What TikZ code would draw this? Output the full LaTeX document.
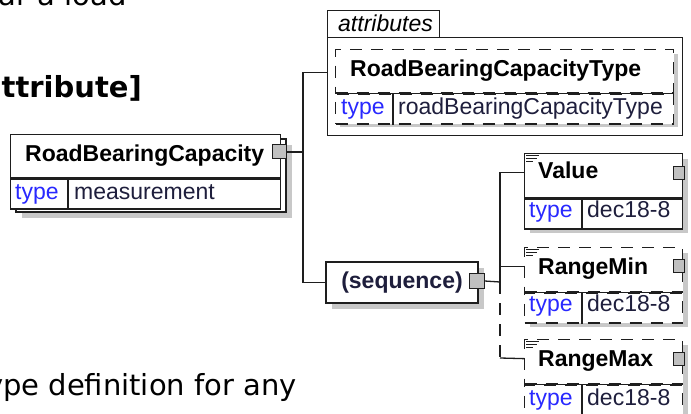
\documentclass[tikz,border=0pt]{standalone}
\usepackage{fontspec}
\newfontfamily\diafont{Liberation Sans}
\newfontfamily\prosefont{DejaVu Sans}
\definecolor{typeblue}{RGB}{40,40,255}
\definecolor{valink}{RGB}{30,30,60}
\definecolor{shadegray}{RGB}{200,200,200}
\definecolor{sqgray}{RGB}{192,192,192}
\definecolor{edge}{RGB}{30,30,30}
\tikzset{
  box/.style={draw=edge, fill=white, line width=1.3pt, inner sep=0pt, anchor=north west},
  optbox/.style={box, dash pattern=on 12pt off 9pt},
  conn/.style={draw=edge, line width=1.3pt},
  sq/.style={draw=edge, fill=sqgray, line width=1pt, minimum width=11pt, minimum height=13pt, inner sep=0pt},
  ename/.style={font=\diafont\fontsize{23}{27}\selectfont\bfseries, anchor=base west, inner sep=0pt},
  tlabel/.style={font=\diafont\fontsize{23}{27}\selectfont, text=typeblue, anchor=base west, inner sep=0pt},
  tval/.style={font=\diafont\fontsize{23}{27}\selectfont, text=valink, anchor=base west, inner sep=0pt},
  prose/.style={font=\prosefont\fontsize{29}{34}\selectfont, anchor=base east, inner sep=0pt},
}
\begin{document}
\begin{tikzpicture}[x=1pt,y=-1pt]
    \useasboundingbox (0,0) rectangle (691,414);
    \clip (0,0) rectangle (691,414);
    % text round the diagram
    \node[prose] (ptop) at (127,6) {ar a load};
    \node[prose, font=\prosefont\fontsize{29}{34}\selectfont\bfseries] (phead) at (142,98) {attribute]};
    \node[prose] (pbot) at (297,395) {ype definition for any};
    % RoadBearingCapacity
    \fill[shadegray] (22,145) rectangle (292,218);
    \filldraw[draw=edge, fill=white, line width=1.3pt] (16,139) rectangle (286,212);
    \node[box, minimum width=270pt, minimum height=43pt] (rbch) at (10,134) {};
    \node[box, minimum width=270pt, minimum height=30pt] (rbct) at (rbch.south west) {};
    \draw[conn] ([xshift=58pt]rbct.north west) -- ([xshift=58pt]rbct.south west);
    \node[ename] (rbcname) at (25,162) {RoadBearingCapacity};
    \node[tlabel] (rbctype) at (15,200) {type};
    \node[tval] (rbcval) at (74,200) {measurement};
    \node[sq, minimum width=14pt, minimum height=14pt] (rbcsq) at (279,152) {};
    % attributes
    \node[box, minimum width=112pt, minimum height=27pt] (attrtab) at (327,10) {};
    \node[box, minimum width=355pt, minimum height=98pt] (attrbody) at (327,37) {};
    \node[tval, text=black, font=\diafont\fontsize{23}{27}\selectfont\itshape] (attrlbl) at (338,32) {attributes};
    \fill[shadegray] (340,54) rectangle (678,127);
    \node[optbox, minimum width=338pt, minimum height=43pt] (rbcth) at (335,49) {};
    \node[optbox, minimum width=338pt, minimum height=30pt] (rbctt) at (rbcth.south west) {};
    \draw[conn] (rbcth.south west) -- (rbcth.south east);
    \draw[conn] ([xshift=58pt]rbctt.north west) -- ([xshift=58pt]rbctt.south west);
    \node[ename] (rbctname) at (350,77) {RoadBearingCapacityType};
    \node[tlabel] (rbcttype) at (341,115) {type};
    \node[tval] (rbctval) at (398,115) {roadBearingCapacityType};
    % sequence
    \fill[shadegray] (332,268) rectangle (484,309);
    \node[box, anchor=center, minimum width=152pt, minimum height=41pt,
          font=\diafont\fontsize{23}{27}\selectfont\bfseries, text=valink] (seq) at (402,282.5) {(sequence)};
    \node[sq, minimum width=15pt, minimum height=14pt] (seqsq) at (476.5,281) {};
    % Value
    \fill[shadegray] (530,159) rectangle (688,233);
    \node[box, minimum width=158pt, minimum height=44pt] (valueh) at (524,153) {};
    \node[box, minimum width=158pt, minimum height=30pt] (valuet) at (valueh.south west) {};
    \draw[conn] ([xshift=58pt]valuet.north west) -- ([xshift=58pt]valuet.south west);
    \node[ename] (valuename) at (538,179) {Value};
    \node[tlabel] (valuetype) at (529,218) {type};
    \node[tval] (valueval) at (587,218) {dec18-8};
    \node[sq] (valuesq) at (678.5,173) {};
    \draw[edge, line width=0.9pt] (526,155) -- (539,155) (526,158) -- (537,158) (526,161) -- (533,161);
    % RangeMin
    \fill[shadegray] (530,253) rectangle (688,327);
    \node[optbox, minimum width=158pt, minimum height=44pt] (rminh) at (524,247) {};
    \node[optbox, minimum width=158pt, minimum height=30pt] (rmint) at (rminh.south west) {};
    \draw[conn] (rminh.south west) -- (rminh.south east);
    \draw[conn] ([xshift=58pt]rmint.north west) -- ([xshift=58pt]rmint.south west);
    \node[ename] (rminname) at (538,274) {RangeMin};
    \node[tlabel] (rmintype) at (529,312) {type};
    \node[tval] (rminval) at (587,312) {dec18-8};
    \node[sq] (rminsq) at (678.5,266.5) {};
    \draw[edge, line width=0.9pt] (526,249) -- (539,249) (526,252) -- (537,252) (526,255) -- (533,255);
    % RangeMax
    \fill[shadegray] (530,345) rectangle (688,419);
    \node[optbox, minimum width=158pt, minimum height=44pt] (rmaxh) at (524,339) {};
    \node[optbox, minimum width=158pt, minimum height=30pt] (rmaxt) at (rmaxh.south west) {};
    \draw[conn] (rmaxh.south west) -- (rmaxh.south east);
    \draw[conn] ([xshift=58pt]rmaxt.north west) -- ([xshift=58pt]rmaxt.south west);
    \node[ename] (rmaxname) at (538,366) {RangeMax};
    \node[tlabel] (rmaxtype) at (529,405) {type};
    \node[tval] (rmaxval) at (587,405) {dec18-8};
    \node[sq] (rmaxsq) at (678.5,358.5) {};
    \draw[edge, line width=0.9pt] (526,341) -- (539,341) (526,344) -- (537,344) (526,347) -- (533,347);
    % connectors
    \coordinate (fork) at (303,152);
    \coordinate (seqfork) at (500,282);
    \coordinate (maxbend) at (500,358);
    \draw[conn] (rbcsq.east) -- (fork);
    \draw[conn] (fork) |- ([yshift=14pt]attrbody.west);
    \draw[conn] (fork) |- (seq.west);
    \draw[conn] (seqsq.east) -- (seqfork);
    \draw[conn] (seqfork) |- ([yshift=3pt]valueh.west);
    \draw[conn] (seqfork) |- ([yshift=3pt]rminh.west);
    \draw[conn, dash pattern=on 12pt off 9pt] (seqfork) -- (maxbend);
    \draw[conn] (maxbend) -- ([yshift=3pt]rmaxh.west);
\end{tikzpicture}
\end{document}
